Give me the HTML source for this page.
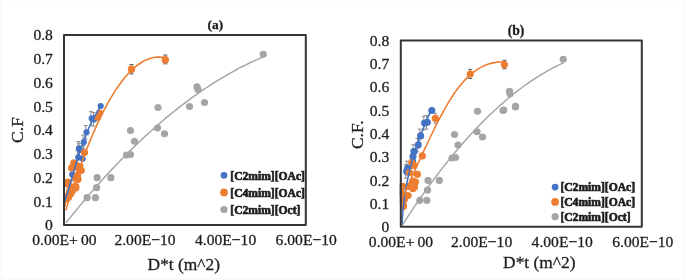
<!DOCTYPE html>
<html><head><meta charset="utf-8"><style>
html,body{margin:0;padding:0;background:#fff;}
svg{display:block;}
text{font-family:"Liberation Serif",serif;fill:#1e1e1e;stroke:#1e1e1e;stroke-width:0.3px;}
svg{filter:blur(0.35px);}
</style></head><body>
<svg width="685" height="280" viewBox="0 0 685 280">
<defs><clipPath id="ca"><rect x="63" y="34" width="243.8" height="192"/></clipPath><clipPath id="cb"><rect x="399.8" y="39.5" width="243" height="188.3"/></clipPath></defs><rect x="0" y="0" width="685" height="280" fill="#fafafa"/><rect x="1.5" y="1" width="682" height="277" fill="#fff"/>
<g clip-path="url(#ca)"><path d="M90.9,111.60000000000001 V125.2 M89.0,111.60000000000001 H92.80000000000001 M89.0,125.2 H92.80000000000001" stroke="#7a7a7a" stroke-width="0.85" fill="none"/><path d="M93.5,112.5 V126.1 M91.6,112.5 H95.4 M91.6,126.1 H95.4" stroke="#7a7a7a" stroke-width="0.85" fill="none"/><path d="M85.7,125.50000000000001 V139.10000000000002 M83.8,125.50000000000001 H87.60000000000001 M83.8,139.10000000000002 H87.60000000000001" stroke="#7a7a7a" stroke-width="0.85" fill="none"/><path d="M83.0,135.2 V148.8 M81.1,135.2 H84.9 M81.1,148.8 H84.9" stroke="#7a7a7a" stroke-width="0.85" fill="none"/><path d="M78.2,141.6 V155.20000000000002 M76.3,141.6 H80.10000000000001 M76.3,155.20000000000002 H80.10000000000001" stroke="#7a7a7a" stroke-width="0.85" fill="none"/><path d="M79.0,143.2 V156.8 M77.1,143.2 H80.9 M77.1,156.8 H80.9" stroke="#7a7a7a" stroke-width="0.85" fill="none"/><path d="M81.8,151.95 V165.55 M79.89999999999999,151.95 H83.7 M79.89999999999999,165.55 H83.7" stroke="#7a7a7a" stroke-width="0.85" fill="none"/><path d="M77.45,150.7 V164.3 M75.55,150.7 H79.35000000000001 M75.55,164.3 H79.35000000000001" stroke="#7a7a7a" stroke-width="0.85" fill="none"/><path d="M71.4,167.79999999999998 V181.4 M69.5,167.79999999999998 H73.30000000000001 M69.5,181.4 H73.30000000000001" stroke="#7a7a7a" stroke-width="0.85" fill="none"/><path d="M83.7,145.7 V159.3 M81.8,145.7 H85.60000000000001 M81.8,159.3 H85.60000000000001" stroke="#7a7a7a" stroke-width="0.85" fill="none"/><path d="M73.2,160.2 V173.8 M71.3,160.2 H75.10000000000001 M71.3,173.8 H75.10000000000001" stroke="#7a7a7a" stroke-width="0.85" fill="none"/><path d="M131.5,64.6 V73.9 M129.3,64.6 H133.7 M129.3,73.9 H133.7" stroke="#4a4a4a" stroke-width="0.85" fill="none"/><path d="M165.3,55 V63.8 M163.10000000000002,55 H167.5 M163.10000000000002,63.8 H167.5" stroke="#4a4a4a" stroke-width="0.85" fill="none"/><circle cx="100.7" cy="106" r="3.1" fill="#4472C4"/><circle cx="91.7" cy="118.4" r="3.1" fill="#4472C4"/><circle cx="94.3" cy="119.3" r="3.1" fill="#4472C4"/><circle cx="86.5" cy="132.3" r="3.1" fill="#4472C4"/><circle cx="83.8" cy="142" r="3.1" fill="#4472C4"/><circle cx="79" cy="148.4" r="3.1" fill="#4472C4"/><circle cx="79.8" cy="150" r="3.1" fill="#4472C4"/><circle cx="82.6" cy="158.75" r="3.1" fill="#4472C4"/><circle cx="78.25" cy="157.5" r="3.1" fill="#4472C4"/><circle cx="72.2" cy="174.6" r="3.1" fill="#4472C4"/><circle cx="99.6" cy="113" r="3.6" fill="#ED7D31"/><circle cx="97.6" cy="117.2" r="3.6" fill="#ED7D31"/><circle cx="84.5" cy="152.5" r="3.6" fill="#ED7D31"/><circle cx="74" cy="167" r="3.6" fill="#ED7D31"/><circle cx="72.7" cy="167.1" r="3.6" fill="#ED7D31"/><circle cx="75.1" cy="164.4" r="3.6" fill="#ED7D31"/><circle cx="79.5" cy="170.6" r="3.6" fill="#ED7D31"/><circle cx="81.3" cy="170.4" r="3.6" fill="#ED7D31"/><circle cx="77.5" cy="175.7" r="3.6" fill="#ED7D31"/><circle cx="75.4" cy="177.9" r="3.6" fill="#ED7D31"/><circle cx="67.9" cy="182.1" r="3.6" fill="#ED7D31"/><circle cx="66.3" cy="183.8" r="3.6" fill="#ED7D31"/><circle cx="74.9" cy="187.5" r="3.6" fill="#ED7D31"/><circle cx="75.7" cy="186.4" r="3.6" fill="#ED7D31"/><circle cx="69.5" cy="191.8" r="3.6" fill="#ED7D31"/><circle cx="72.1" cy="191.4" r="3.6" fill="#ED7D31"/><circle cx="68.6" cy="195" r="3.6" fill="#ED7D31"/><circle cx="65.7" cy="199.3" r="3.6" fill="#ED7D31"/><circle cx="62.5" cy="204.5" r="3.6" fill="#ED7D31"/><circle cx="73.8" cy="163.2" r="3.6" fill="#ED7D31"/><circle cx="79.6" cy="166.4" r="3.6" fill="#ED7D31"/><circle cx="71.6" cy="168" r="3.6" fill="#ED7D31"/><circle cx="78" cy="179.3" r="3.6" fill="#ED7D31"/><circle cx="65.2" cy="183" r="3.6" fill="#ED7D31"/><circle cx="70.6" cy="186.7" r="3.6" fill="#ED7D31"/><circle cx="75.9" cy="187.8" r="3.6" fill="#ED7D31"/><circle cx="68.5" cy="197.5" r="3.6" fill="#ED7D31"/><circle cx="70.5" cy="194" r="3.6" fill="#ED7D31"/><circle cx="131.5" cy="69.3" r="3.7" fill="#ED7D31"/><circle cx="165.3" cy="59.7" r="3.7" fill="#ED7D31"/><circle cx="263.25" cy="54.25" r="3.6" fill="#A5A5A5"/><circle cx="197" cy="86.75" r="3.6" fill="#A5A5A5"/><circle cx="198" cy="89.5" r="3.6" fill="#A5A5A5"/><circle cx="204.5" cy="102.5" r="3.6" fill="#A5A5A5"/><circle cx="189.5" cy="106.5" r="3.6" fill="#A5A5A5"/><circle cx="158" cy="107.5" r="3.6" fill="#A5A5A5"/><circle cx="130.5" cy="130.5" r="3.6" fill="#A5A5A5"/><circle cx="157.5" cy="128" r="3.6" fill="#A5A5A5"/><circle cx="164.5" cy="133.75" r="3.6" fill="#A5A5A5"/><circle cx="134.5" cy="141.25" r="3.6" fill="#A5A5A5"/><circle cx="126.5" cy="155" r="3.6" fill="#A5A5A5"/><circle cx="130.5" cy="154.5" r="3.6" fill="#A5A5A5"/><circle cx="97.1" cy="177.7" r="3.6" fill="#A5A5A5"/><circle cx="110.9" cy="177.7" r="3.6" fill="#A5A5A5"/><circle cx="96.6" cy="187.7" r="3.6" fill="#A5A5A5"/><circle cx="87.1" cy="197.7" r="3.6" fill="#A5A5A5"/><circle cx="95.4" cy="197.7" r="3.6" fill="#A5A5A5"/><path d="M64.07,203.00 L64.65,201.36 L65.22,199.71 L65.77,198.07 L66.32,196.42 L66.85,194.78 L67.38,193.14 L67.90,191.49 L68.41,189.85 L68.91,188.20 L69.41,186.56 L69.91,184.92 L70.40,183.27 L70.88,181.63 L71.36,179.98 L71.84,178.34 L72.32,176.69 L72.80,175.05 L73.27,173.41 L73.75,171.76 L74.22,170.12 L74.70,168.47 L75.18,166.83 L75.67,165.19 L76.15,163.54 L76.64,161.90 L77.14,160.25 L77.64,158.61 L78.15,156.97 L78.67,155.32 L79.19,153.68 L79.72,152.03 L80.26,150.39 L80.81,148.75 L81.37,147.10 L81.94,145.46 L82.53,143.81 L83.12,142.17 L83.73,140.53 L84.35,138.88 L84.99,137.24 L85.65,135.59 L86.31,133.95 L87.00,132.31 L87.70,130.66 L88.42,129.02 L89.16,127.37 L89.92,125.73 L90.70,124.08 L91.50,122.44 L92.32,120.80 L93.16,119.15 L94.03,117.51 L94.92,115.86 L95.83,114.22 L96.77,112.58 L97.73,110.93 L98.72,109.29 L99.74,107.64 L100.78,106.00" stroke="#4472C4" stroke-width="1.6" fill="none" stroke-linecap="round" stroke-linejoin="round"/><path d="M66.00,209.84 L67.68,204.35 L69.37,198.96 L71.05,193.66 L72.73,188.47 L74.42,183.38 L76.10,178.39 L77.78,173.50 L79.46,168.71 L81.15,164.02 L82.83,159.44 L84.51,154.95 L86.20,150.56 L87.88,146.28 L89.56,142.09 L91.25,138.01 L92.93,134.02 L94.61,130.14 L96.29,126.35 L97.98,122.67 L99.66,119.09 L101.34,115.61 L103.03,112.23 L104.71,108.95 L106.39,105.77 L108.08,102.69 L109.76,99.71 L111.44,96.83 L113.13,94.06 L114.81,91.38 L116.49,88.80 L118.17,86.33 L119.86,83.95 L121.54,81.68 L123.22,79.51 L124.91,77.43 L126.59,75.46 L128.27,73.59 L129.96,71.82 L131.64,70.15 L133.32,68.58 L135.01,67.11 L136.69,65.74 L138.37,64.47 L140.05,63.30 L141.74,62.24 L143.42,61.27 L145.10,60.40 L146.79,59.64 L148.47,58.97 L150.15,58.41 L151.84,57.95 L153.52,57.58 L155.20,57.32 L156.88,57.16 L158.57,57.10 L160.25,57.14 L161.93,57.28 L163.62,57.52 L165.30,57.86" stroke="#ED7D31" stroke-width="1.6" fill="none" stroke-linecap="round" stroke-linejoin="round"/><path d="M66.40,222.32 L69.73,218.15 L73.06,214.02 L76.40,209.94 L79.73,205.91 L83.06,201.93 L86.39,197.99 L89.73,194.10 L93.06,190.26 L96.39,186.46 L99.72,182.71 L103.05,179.01 L106.39,175.36 L109.72,171.75 L113.05,168.19 L116.38,164.68 L119.72,161.22 L123.05,157.80 L126.38,154.43 L129.71,151.11 L133.04,147.83 L136.38,144.61 L139.71,141.42 L143.04,138.29 L146.37,135.20 L149.71,132.17 L153.04,129.17 L156.37,126.23 L159.70,123.33 L163.03,120.48 L166.37,117.68 L169.70,114.92 L173.03,112.22 L176.36,109.56 L179.69,106.94 L183.03,104.38 L186.36,101.86 L189.69,99.39 L193.02,96.96 L196.36,94.58 L199.69,92.25 L203.02,89.97 L206.35,87.74 L209.68,85.55 L213.02,83.41 L216.35,81.31 L219.68,79.27 L223.01,77.27 L226.35,75.32 L229.68,73.41 L233.01,71.56 L236.34,69.75 L239.67,67.98 L243.01,66.27 L246.34,64.60 L249.67,62.98 L253.00,61.41 L256.34,59.88 L259.67,58.40 L263.00,56.97" stroke="#A5A5A5" stroke-width="1.45" fill="none" stroke-linecap="round" stroke-linejoin="round"/></g><rect x="64" y="35" width="241.8" height="190" fill="none" stroke="#353535" stroke-width="2" stroke-linejoin="round"/><text x="52.9" y="230.3" font-size="15.6" text-anchor="end" font-weight="normal" >0</text><text x="52.9" y="206.55" font-size="15.6" text-anchor="end" font-weight="normal" >0.1</text><text x="52.9" y="182.8" font-size="15.6" text-anchor="end" font-weight="normal" >0.2</text><text x="52.9" y="159.05" font-size="15.6" text-anchor="end" font-weight="normal" >0.3</text><text x="52.9" y="135.3" font-size="15.6" text-anchor="end" font-weight="normal" >0.4</text><text x="52.9" y="111.55" font-size="15.6" text-anchor="end" font-weight="normal" >0.5</text><text x="52.9" y="87.8" font-size="15.6" text-anchor="end" font-weight="normal" >0.6</text><text x="52.9" y="64.05" font-size="15.6" text-anchor="end" font-weight="normal" >0.7</text><text x="52.9" y="40.3" font-size="15.6" text-anchor="end" font-weight="normal" >0.8</text><text x="64.4" y="245" font-size="15.6" text-anchor="middle" font-weight="normal" >0.00E+&#8201;00</text><text x="145.0" y="245" font-size="15.6" text-anchor="middle" font-weight="normal" >2.00E&#8722;10</text><text x="225.6" y="245" font-size="15.6" text-anchor="middle" font-weight="normal" >4.00E&#8722;10</text><text x="306.2" y="245" font-size="15.6" text-anchor="middle" font-weight="normal" >6.00E&#8722;10</text><text x="215.4" y="28.8" font-size="13.4" text-anchor="middle" font-weight="bold" >(a)</text><text x="183.8" y="270.4" font-size="17.4" text-anchor="middle" font-weight="normal" >D*t (m^2)</text><text transform="translate(22.8,130) rotate(-90)" font-size="17.5" text-anchor="middle">C.F</text><circle cx="224" cy="175.3" r="3.4" fill="#4472C4"/><text x="230.3" y="179.60000000000002" font-size="11.6" text-anchor="start" font-weight="bold" style="stroke-width:0.65px">[C2mim][OAc]</text><circle cx="224" cy="192.4" r="3.9" fill="#ED7D31"/><text x="230.3" y="196.70000000000002" font-size="11.6" text-anchor="start" font-weight="bold" style="stroke-width:0.65px">[C4mim][OAc]</text><circle cx="224" cy="209.5" r="3.6" fill="#A5A5A5"/><text x="230.3" y="213.8" font-size="11.6" text-anchor="start" font-weight="bold" style="stroke-width:0.65px">[C2mim][Oct]</text><g clip-path="url(#cb)"><path d="M423.8,116.2 V129.8 M421.90000000000003,116.2 H425.7 M421.90000000000003,129.8 H425.7" stroke="#7a7a7a" stroke-width="0.85" fill="none"/><path d="M426.5,115.5 V129.1 M424.6,115.5 H428.4 M424.6,129.1 H428.4" stroke="#7a7a7a" stroke-width="0.85" fill="none"/><path d="M419.8,129.1 V142.70000000000002 M417.90000000000003,129.1 H421.7 M417.90000000000003,142.70000000000002 H421.7" stroke="#7a7a7a" stroke-width="0.85" fill="none"/><path d="M417.4,138.29999999999998 V151.9 M415.5,138.29999999999998 H419.29999999999995 M415.5,151.9 H419.29999999999995" stroke="#7a7a7a" stroke-width="0.85" fill="none"/><path d="M413.2,144.7 V158.3 M411.3,144.7 H415.09999999999997 M411.3,158.3 H415.09999999999997" stroke="#7a7a7a" stroke-width="0.85" fill="none"/><path d="M412.2,149.7 V163.3 M410.3,149.7 H414.09999999999997 M410.3,163.3 H414.09999999999997" stroke="#7a7a7a" stroke-width="0.85" fill="none"/><path d="M411.8,154.7 V168.3 M409.90000000000003,154.7 H413.7 M409.90000000000003,168.3 H413.7" stroke="#7a7a7a" stroke-width="0.85" fill="none"/><path d="M406.9,161.2 V174.8 M405.0,161.2 H408.79999999999995 M405.0,174.8 H408.79999999999995" stroke="#7a7a7a" stroke-width="0.85" fill="none"/><path d="M405.8,164.6 V178.20000000000002 M403.90000000000003,164.6 H407.7 M403.90000000000003,178.20000000000002 H407.7" stroke="#7a7a7a" stroke-width="0.85" fill="none"/><path d="M400.0,180.7 V194.3 M398.1,180.7 H401.9 M398.1,194.3 H401.9" stroke="#7a7a7a" stroke-width="0.85" fill="none"/><path d="M400.2,186.7 V200.3 M398.3,186.7 H402.09999999999997 M398.3,200.3 H402.09999999999997" stroke="#7a7a7a" stroke-width="0.85" fill="none"/><path d="M435.3,113.3 V123.3 M433.5,113.3 H437.1 M433.5,123.3 H437.1" stroke="#7a7a7a" stroke-width="0.85" fill="none"/><path d="M470.25,69.4 V78.5 M468.15,69.4 H472.35 M468.15,78.5 H472.35" stroke="#4a4a4a" stroke-width="0.85" fill="none"/><path d="M504.4,60.25 V68.75 M502.29999999999995,60.25 H506.5 M502.29999999999995,68.75 H506.5" stroke="#4a4a4a" stroke-width="0.85" fill="none"/><circle cx="431.8" cy="110.5" r="3.55" fill="#4472C4"/><circle cx="424.6" cy="123" r="3.55" fill="#4472C4"/><circle cx="427.3" cy="122.3" r="3.55" fill="#4472C4"/><circle cx="420.6" cy="135.9" r="3.55" fill="#4472C4"/><circle cx="418.2" cy="145.1" r="3.55" fill="#4472C4"/><circle cx="414" cy="151.5" r="3.55" fill="#4472C4"/><circle cx="413" cy="156.5" r="3.55" fill="#4472C4"/><circle cx="412.6" cy="161.5" r="3.55" fill="#4472C4"/><circle cx="407.7" cy="168" r="3.55" fill="#4472C4"/><circle cx="406.6" cy="171.4" r="3.55" fill="#4472C4"/><circle cx="400.8" cy="187.5" r="3.55" fill="#4472C4"/><circle cx="401" cy="193.5" r="3.55" fill="#4472C4"/><circle cx="435.3" cy="118.3" r="3.6" fill="#ED7D31"/><circle cx="422.3" cy="155.9" r="3.6" fill="#ED7D31"/><circle cx="417.4" cy="174.3" r="3.6" fill="#ED7D31"/><circle cx="409.4" cy="172.6" r="3.6" fill="#ED7D31"/><circle cx="412.9" cy="181.1" r="3.6" fill="#ED7D31"/><circle cx="402.6" cy="186.3" r="3.6" fill="#ED7D31"/><circle cx="412.9" cy="188.6" r="3.6" fill="#ED7D31"/><circle cx="408.3" cy="186.3" r="3.6" fill="#ED7D31"/><circle cx="411.7" cy="162.5" r="3.6" fill="#ED7D31"/><circle cx="414.1" cy="165.5" r="3.6" fill="#ED7D31"/><circle cx="408.1" cy="195.5" r="3.6" fill="#ED7D31"/><circle cx="402.4" cy="200.3" r="3.6" fill="#ED7D31"/><circle cx="403.2" cy="204.3" r="3.6" fill="#ED7D31"/><circle cx="401.5" cy="193" r="3.6" fill="#ED7D31"/><circle cx="404.5" cy="199" r="3.6" fill="#ED7D31"/><circle cx="403.5" cy="206.5" r="3.6" fill="#ED7D31"/><circle cx="406" cy="196" r="3.6" fill="#ED7D31"/><circle cx="414.5" cy="187" r="3.6" fill="#ED7D31"/><circle cx="415.5" cy="182" r="3.6" fill="#ED7D31"/><circle cx="470.25" cy="74" r="3.6" fill="#ED7D31"/><circle cx="504.4" cy="64.6" r="3.6" fill="#ED7D31"/><circle cx="563.25" cy="59.25" r="3.6" fill="#A5A5A5"/><circle cx="509.5" cy="91.25" r="3.6" fill="#A5A5A5"/><circle cx="510" cy="93.75" r="3.6" fill="#A5A5A5"/><circle cx="515.5" cy="106.25" r="3.6" fill="#A5A5A5"/><circle cx="503.75" cy="110" r="3.6" fill="#A5A5A5"/><circle cx="477.5" cy="111.25" r="3.6" fill="#A5A5A5"/><circle cx="503" cy="110.5" r="3.6" fill="#A5A5A5"/><circle cx="515.5" cy="107" r="3.6" fill="#A5A5A5"/><circle cx="454.5" cy="134.5" r="3.6" fill="#A5A5A5"/><circle cx="477" cy="131.75" r="3.6" fill="#A5A5A5"/><circle cx="482.5" cy="137" r="3.6" fill="#A5A5A5"/><circle cx="458" cy="145" r="3.6" fill="#A5A5A5"/><circle cx="452" cy="158" r="3.6" fill="#A5A5A5"/><circle cx="455.5" cy="157.5" r="3.6" fill="#A5A5A5"/><circle cx="428" cy="180.4" r="3.6" fill="#A5A5A5"/><circle cx="439.3" cy="180.4" r="3.6" fill="#A5A5A5"/><circle cx="427.5" cy="190.2" r="3.6" fill="#A5A5A5"/><circle cx="419.8" cy="200.3" r="3.6" fill="#A5A5A5"/><circle cx="426.9" cy="200.3" r="3.6" fill="#A5A5A5"/><path d="M402.04,225.00 L402.11,223.06 L402.20,221.12 L402.31,219.18 L402.43,217.24 L402.57,215.30 L402.71,213.36 L402.88,211.42 L403.06,209.47 L403.25,207.53 L403.45,205.59 L403.67,203.65 L403.91,201.71 L404.16,199.77 L404.42,197.83 L404.70,195.89 L404.99,193.95 L405.30,192.01 L405.62,190.07 L405.95,188.13 L406.30,186.19 L406.66,184.25 L407.04,182.31 L407.43,180.36 L407.84,178.42 L408.26,176.48 L408.69,174.54 L409.14,172.60 L409.61,170.66 L410.08,168.72 L410.58,166.78 L411.08,164.84 L411.60,162.90 L412.14,160.96 L412.69,159.02 L413.25,157.08 L413.83,155.14 L414.42,153.19 L415.03,151.25 L415.65,149.31 L416.28,147.37 L416.93,145.43 L417.59,143.49 L418.27,141.55 L418.96,139.61 L419.67,137.67 L420.39,135.73 L421.13,133.79 L421.87,131.85 L422.64,129.91 L423.42,127.97 L424.21,126.03 L425.01,124.08 L425.83,122.14 L426.67,120.20 L427.52,118.26 L428.38,116.32 L429.26,114.38 L430.15,112.44 L431.06,110.50" stroke="#4472C4" stroke-width="1.6" fill="none" stroke-linecap="round" stroke-linejoin="round"/><path d="M403.56,196.19 L404.50,193.93 L405.43,191.71 L406.36,189.52 L407.29,187.36 L408.21,185.23 L409.13,183.12 L410.05,181.04 L410.97,178.98 L411.89,176.93 L412.80,174.90 L413.71,172.89 L414.62,170.88 L415.53,168.89 L416.44,166.90 L417.35,164.93 L418.26,162.95 L419.17,160.98 L420.08,159.01 L420.99,157.05 L421.90,155.08 L422.82,153.11 L423.73,151.14 L424.66,149.17 L425.58,147.20 L426.51,145.22 L427.44,143.24 L428.38,141.25 L429.32,139.26 L430.27,137.27 L431.23,135.27 L432.20,133.26 L433.17,131.25 L434.15,129.24 L435.14,127.23 L436.15,125.21 L437.16,123.19 L438.18,121.17 L439.22,119.15 L440.27,117.13 L441.34,115.11 L442.42,113.10 L443.51,111.09 L444.63,109.08 L445.76,107.09 L446.91,105.10 L448.08,103.12 L449.26,101.16 L450.47,99.21 L451.71,97.27 L452.96,95.36 L454.24,93.47 L455.55,91.60 L456.88,89.76 L458.24,87.95 L459.62,86.16 L461.04,84.42 L462.49,82.71 L463.97,81.04 L465.48,79.42 L467.03,77.84 L468.61,76.32 L470.23,74.84 L471.88,73.43 L473.58,72.08 L475.32,70.79 L477.09,69.57 L478.91,68.43 L480.78,67.36 L482.69,66.38 L484.64,65.48 L486.65,64.67 L488.70,63.96 L490.81,63.35 L492.97,62.84 L495.18,62.45 L497.45,62.16 L499.77,62.00 L502.16,61.97 L504.60,62.06" stroke="#ED7D31" stroke-width="1.6" fill="none" stroke-linecap="round" stroke-linejoin="round"/><path d="M402.00,225.60 L404.73,221.36 L407.46,217.18 L410.19,213.04 L412.92,208.96 L415.64,204.92 L418.37,200.94 L421.10,197.01 L423.83,193.13 L426.56,189.30 L429.29,185.53 L432.02,181.80 L434.75,178.12 L437.47,174.50 L440.20,170.93 L442.93,167.40 L445.66,163.93 L448.39,160.51 L451.12,157.14 L453.85,153.83 L456.58,150.56 L459.31,147.34 L462.03,144.18 L464.76,141.07 L467.49,138.00 L470.22,134.99 L472.95,132.03 L475.68,129.12 L478.41,126.27 L481.14,123.46 L483.86,120.70 L486.59,118.00 L489.32,115.35 L492.05,112.74 L494.78,110.19 L497.51,107.69 L500.24,105.24 L502.97,102.85 L505.69,100.50 L508.42,98.20 L511.15,95.96 L513.88,93.77 L516.61,91.62 L519.34,89.53 L522.07,87.49 L524.80,85.50 L527.53,83.57 L530.25,81.68 L532.98,79.84 L535.71,78.06 L538.44,76.32 L541.17,74.64 L543.90,73.01 L546.63,71.43 L549.36,69.90 L552.08,68.42 L554.81,67.00 L557.54,65.62 L560.27,64.30 L563.00,63.02" stroke="#A5A5A5" stroke-width="1.45" fill="none" stroke-linecap="round" stroke-linejoin="round"/></g><rect x="400.8" y="40.5" width="241" height="186.3" fill="none" stroke="#353535" stroke-width="2" stroke-linejoin="round"/><text x="389.3" y="232.10000000000002" font-size="15.6" text-anchor="end" font-weight="normal" >0</text><text x="389.3" y="208.81000000000003" font-size="15.6" text-anchor="end" font-weight="normal" >0.1</text><text x="389.3" y="185.52000000000004" font-size="15.6" text-anchor="end" font-weight="normal" >0.2</text><text x="389.3" y="162.23000000000002" font-size="15.6" text-anchor="end" font-weight="normal" >0.3</text><text x="389.3" y="138.94000000000003" font-size="15.6" text-anchor="end" font-weight="normal" >0.4</text><text x="389.3" y="115.65000000000002" font-size="15.6" text-anchor="end" font-weight="normal" >0.5</text><text x="389.3" y="92.36" font-size="15.6" text-anchor="end" font-weight="normal" >0.6</text><text x="389.3" y="69.07000000000001" font-size="15.6" text-anchor="end" font-weight="normal" >0.7</text><text x="389.3" y="45.780000000000015" font-size="15.6" text-anchor="end" font-weight="normal" >0.8</text><text x="401.0" y="247" font-size="15.6" text-anchor="middle" font-weight="normal" >0.00E+&#8201;00</text><text x="481.6" y="247" font-size="15.6" text-anchor="middle" font-weight="normal" >2.00E&#8722;10</text><text x="562.2" y="247" font-size="15.6" text-anchor="middle" font-weight="normal" >4.00E&#8722;10</text><text x="642.8" y="247" font-size="15.6" text-anchor="middle" font-weight="normal" >6.00E&#8722;10</text><text x="516" y="34.8" font-size="13.6" text-anchor="middle" font-weight="bold" >(b)</text><text x="539.3" y="267.9" font-size="17.4" text-anchor="middle" font-weight="normal" >D*t (m^2)</text><text transform="translate(362.5,134.7) rotate(-90)" font-size="17.5" text-anchor="middle">C.F.</text><circle cx="555.1" cy="187.1" r="3.4" fill="#4472C4"/><text x="560.4" y="191.4" font-size="11.6" text-anchor="start" font-weight="bold" style="stroke-width:0.65px">[C2mim][OAc]</text><circle cx="555.1" cy="201.9" r="3.9" fill="#ED7D31"/><text x="560.4" y="206.20000000000002" font-size="11.6" text-anchor="start" font-weight="bold" style="stroke-width:0.65px">[C4mim][OAc]</text><circle cx="555.1" cy="216.7" r="3.6" fill="#A5A5A5"/><text x="560.4" y="221.0" font-size="11.6" text-anchor="start" font-weight="bold" style="stroke-width:0.65px">[C2mim][Oct]</text>
</svg>
</body></html>
